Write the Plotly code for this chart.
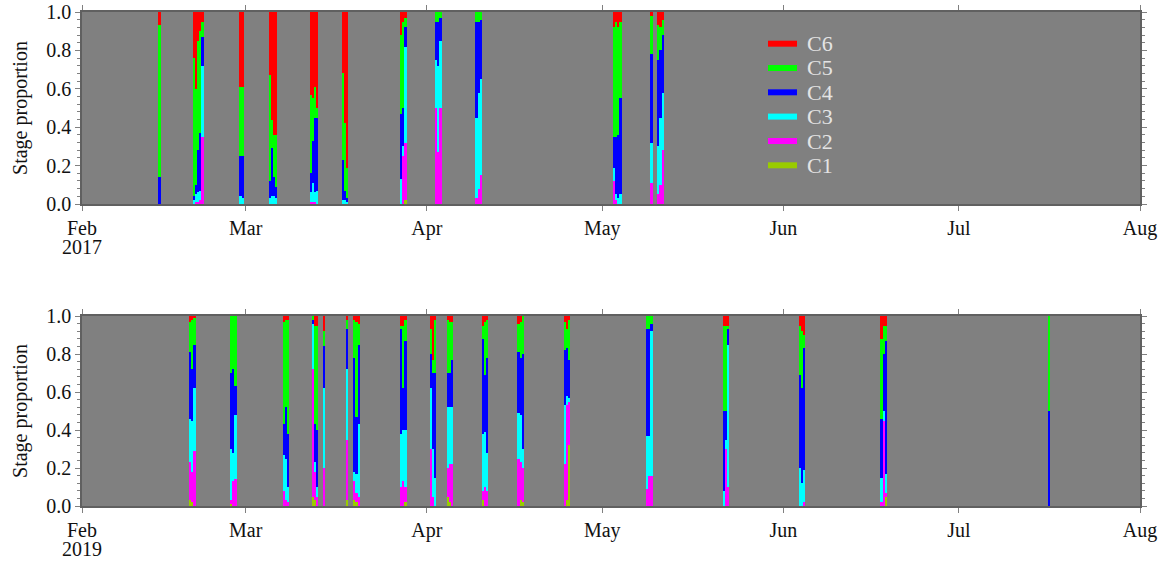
import plotly.graph_objects as go

stages = ["C1", "C2", "C3", "C4", "C5", "C6"]
stage_colors = ["#99cc00", "#ff00ff", "#00ffff", "#0000ff", "#00ff00", "#ff0000"]

months_2017 = ["2017-02-01", "2017-03-01", "2017-04-01", "2017-05-01", "2017-06-01", "2017-07-01", "2017-08-01"]
months_2019 = ["2019-02-01", "2019-03-01", "2019-04-01", "2019-05-01", "2019-06-01", "2019-07-01", "2019-08-01"]
month_labels = ["Feb", "Mar", "Apr", "May", "Jun", "Jul", "Aug"]
years = ["2017", "2019"]

# ---- 2017 samples ----
times_2017 = [
    "2017-02-14 06:00",
    "2017-02-20 03:00", "2017-02-20 12:00", "2017-02-20 21:00", "2017-02-21 06:00", "2017-02-21 15:00",
    "2017-02-28 03:00", "2017-02-28 12:00",
    "2017-03-05 03:00", "2017-03-05 12:00", "2017-03-05 21:00", "2017-03-06 06:00",
    "2017-03-12 03:00", "2017-03-12 12:00", "2017-03-12 21:00", "2017-03-13 06:00",
    "2017-03-17 14:00", "2017-03-17 23:00", "2017-03-18 08:00",
    "2017-03-27 14:00", "2017-03-27 23:00", "2017-03-28 08:00",
    "2017-04-02 14:00", "2017-04-02 23:00", "2017-04-03 08:00",
    "2017-04-09 12:00", "2017-04-09 21:00", "2017-04-10 06:00",
    "2017-05-03 00:00", "2017-05-03 09:00", "2017-05-03 18:00", "2017-05-04 03:00",
    "2017-05-09 10:00",
    "2017-05-10 14:00", "2017-05-10 23:00", "2017-05-11 08:00",
]
c1_2017 = [0, 0, 0, 0, 0, 0, 0, 0, 0, 0, 0, 0, 0, 0, 0, 0, 0, 0, 0, 0, 0, 0.02, 0, 0, 0, 0, 0, 0, 0, 0, 0, 0, 0, 0, 0, 0]
c2_2017 = [0, 0, 0.01, 0.01, 0.02, 0.35, 0, 0, 0, 0, 0, 0, 0.01, 0.01, 0.01, 0, 0, 0, 0, 0, 0.25, 0.30, 0.50, 0.27, 0.50, 0.03, 0.08, 0.15, 0.12, 0.02, 0, 0, 0.11, 0.05, 0.10, 0.28]
c3_2017 = [0, 0.02, 0.04, 0.05, 0.05, 0.37, 0.04, 0.03, 0.03, 0.04, 0.04, 0.03, 0.05, 0.10, 0.05, 0.07, 0.02, 0.02, 0.01, 0.13, 0.05, 0.50, 0.25, 0.45, 0.35, 0.42, 0.50, 0.50, 0.07, 0.03, 0.03, 0.05, 0.21, 0.25, 0.35, 0.30]
c4_2017 = [0.14, 0.02, 0.05, 0.22, 0.30, 0.15, 0.21, 0.22, 0.09, 0.25, 0.10, 0.06, 0.10, 0.22, 0.39, 0.38, 0.21, 0.05, 0.02, 0.34, 0.20, 0.10, 0.20, 0.23, 0.12, 0.50, 0.37, 0.31, 0.16, 0.30, 0.33, 0.50, 0.46, 0.45, 0.35, 0.30]
c5_2017 = [0.79, 0.72, 0.50, 0.57, 0.53, 0.08, 0.36, 0.36, 0.55, 0.15, 0.22, 0.27, 0.41, 0.22, 0.16, 0.05, 0.45, 0.35, 0.16, 0.41, 0.45, 0.05, 0.05, 0.05, 0.03, 0.05, 0.05, 0.04, 0.57, 0.60, 0.56, 0.40, 0.20, 0.18, 0.12, 0.08]
c6_2017 = [0.07, 0.24, 0.40, 0.15, 0.10, 0.05, 0.39, 0.39, 0.33, 0.56, 0.64, 0.64, 0.43, 0.45, 0.39, 0.50, 0.32, 0.58, 0.81, 0.12, 0.05, 0.03, 0, 0, 0, 0, 0, 0, 0.08, 0.05, 0.08, 0.05, 0.02, 0.07, 0.08, 0.04]

# ---- 2019 samples ----
times_2019 = [
    "2019-02-19 12:00", "2019-02-19 21:00", "2019-02-20 06:00",
    "2019-02-26 12:00", "2019-02-26 21:00", "2019-02-27 06:00",
    "2019-03-07 12:00", "2019-03-07 21:00", "2019-03-08 06:00",
    "2019-03-12 12:00", "2019-03-12 21:00", "2019-03-13 06:00", "2019-03-14 08:00",
    "2019-03-18 08:00",
    "2019-03-19 14:00", "2019-03-19 23:00", "2019-03-20 08:00",
    "2019-03-27 14:00", "2019-03-27 23:00", "2019-03-28 08:00",
    "2019-04-01 16:00", "2019-04-02 01:00", "2019-04-02 10:00",
    "2019-04-04 14:00", "2019-04-04 23:00", "2019-04-05 08:00",
    "2019-04-10 14:00", "2019-04-10 23:00", "2019-04-11 08:00",
    "2019-04-16 16:00", "2019-04-17 01:00", "2019-04-17 10:00",
    "2019-04-24 14:00", "2019-04-24 23:00", "2019-04-25 08:00",
    "2019-05-08 16:00", "2019-05-09 01:00", "2019-05-09 10:00",
    "2019-05-21 19:00", "2019-05-22 04:00", "2019-05-22 13:00",
    "2019-06-03 19:00", "2019-06-04 04:00", "2019-06-04 13:00",
    "2019-06-17 19:00", "2019-06-18 04:00", "2019-06-18 13:00",
    "2019-07-16 11:00",
]
c1_2019 = [0.03, 0.02, 0, 0.01, 0, 0, 0, 0, 0, 0.05, 0.03, 0, 0, 0.03, 0.03, 0.02, 0, 0, 0, 0.02, 0, 0, 0, 0.05, 0.02, 0, 0.03, 0, 0, 0, 0.03, 0.02, 0, 0.03, 0.32, 0, 0, 0, 0, 0, 0, 0, 0, 0, 0, 0, 0.05, 0]
c2_2019 = [0.20, 0.16, 0.29, 0.02, 0.13, 0.14, 0.08, 0.03, 0.02, 0.67, 0.15, 0.05, 0.20, 0.32, 0.10, 0.05, 0.05, 0.10, 0.13, 0.08, 0.30, 0.05, 0, 0.15, 0.20, 0.22, 0.05, 0.10, 0.08, 0.25, 0.20, 0.18, 0.22, 0.50, 0.23, 0.09, 0.16, 0.16, 0, 0.30, 0.10, 0, 0, 0.02, 0.02, 0.45, 0.02, 0]
c3_2019 = [0.23, 0.27, 0.33, 0.27, 0.15, 0.34, 0.19, 0.22, 0.08, 0.24, 0.05, 0.05, 0.42, 0.37, 0.05, 0.10, 0.38, 0.28, 0.27, 0.30, 0.32, 0.25, 0.15, 0.32, 0.30, 0.30, 0.30, 0.29, 0.20, 0.24, 0.25, 0.10, 0.31, 0.05, 0.02, 0.28, 0.21, 0.76, 0.08, 0.05, 0.75, 0.20, 0.12, 0.17, 0.13, 0.05, 0.10, 0]
c4_2019 = [0.35, 0.27, 0.23, 0.40, 0.44, 0.15, 0.16, 0.27, 0.28, 0.02, 0.20, 0.30, 0.22, 0.21, 0.60, 0.30, 0.42, 0.55, 0.22, 0.47, 0.18, 0.40, 0.55, 0.18, 0.18, 0.25, 0.50, 0.30, 0.50, 0.32, 0.30, 0.50, 0.29, 0.25, 0.20, 0.56, 0.56, 0.04, 0.42, 0.15, 0.08, 0.49, 0.50, 0.64, 0.31, 0.30, 0.70, 0.50]
c5_2019 = [0.16, 0.26, 0.14, 0.30, 0.28, 0.37, 0.54, 0.46, 0.60, 0.02, 0.52, 0.55, 0.08, 0.05, 0.20, 0.50, 0.11, 0.02, 0.33, 0.11, 0.13, 0.07, 0.28, 0.28, 0.27, 0.20, 0.07, 0.28, 0.20, 0.15, 0.19, 0.20, 0.15, 0.10, 0.21, 0.07, 0.07, 0.04, 0.45, 0.45, 0.02, 0.26, 0.30, 0.07, 0.42, 0.15, 0.08, 0.50]
c6_2019 = [0.03, 0.02, 0.01, 0, 0, 0, 0.03, 0.02, 0.02, 0, 0.05, 0.05, 0.08, 0.02, 0.02, 0.03, 0.04, 0.05, 0.05, 0.02, 0.07, 0.23, 0.02, 0.02, 0.03, 0.03, 0.05, 0.03, 0.02, 0.04, 0.03, 0, 0.03, 0.07, 0.02, 0, 0, 0, 0.05, 0.05, 0.05, 0.05, 0.08, 0.10, 0.12, 0.05, 0.05, 0]

values_2017 = [c1_2017, c2_2017, c3_2017, c4_2017, c5_2017, c6_2017]
values_2019 = [c1_2019, c2_2019, c3_2019, c4_2019, c5_2019, c6_2019]

BAR_WIDTH_MS = 9 * 3600 * 1000
FONT = "Liberation Serif, Times New Roman, serif"
TEXT = "#111111"

# pixel geometry of the page (used only for layout placement)
W, H = 1165, 561
ML, MR, MT, MB = 82, 25, 12, 55
PW = W - ML - MR
P1_TOP, P1_BOT = 12, 204
P2_TOP, P2_BOT = 316, 506
PH = H - MT - MB

def py2paper(py):
    return 1 - (py - MT) / PH

def px2paper(px):
    return (px - ML) / PW

fig = go.Figure()

for times, vals, xa, ya in [(times_2017, values_2017, "x", "y"), (times_2019, values_2019, "x2", "y2")]:
    for name, col, v in zip(stages, stage_colors, vals):
        fig.add_trace(go.Bar(
            x=times, y=v, name=name, xaxis=xa, yaxis=ya,
            width=BAR_WIDTH_MS, marker=dict(color=col, line=dict(width=0)),
            showlegend=False,
        ))

axis_common = dict(
    showline=True, linecolor="#606060", linewidth=1.5, mirror="ticks",
    ticks="outside", tickcolor="#808080", ticklen=5, tickwidth=1,
    showgrid=False, zeroline=False, automargin=False,
    tickfont=dict(family=FONT, size=20, color=TEXT),
)

def xaxis_cfg(months, anchor):
    return dict(
        type="date", range=[months[0], months[-1]], tickvals=months, ticktext=month_labels,
        anchor=anchor, **axis_common,
    )

def yaxis_cfg(domain, anchor):
    return dict(
        range=[0, 1.0], domain=domain, anchor=anchor,
        tickvals=[0, 0.2, 0.4, 0.6, 0.8, 1.0], ticktext=["0.0", "0.2", "0.4", "0.6", "0.8", "1.0"],
        minor=dict(ticks="outside", ticklen=3, dtick=0.04, tickcolor="#808080", showgrid=False),
        title=dict(text="Stage proportion", font=dict(family=FONT, size=20, color=TEXT), standoff=13),
        **axis_common,
    )

annotations = []
shapes = []

# year labels under the first month tick
for year, bot in [(years[0], P1_BOT), (years[1], P2_BOT)]:
    annotations.append(dict(
        x=px2paper(ML), y=py2paper(bot + 43), xref="paper", yref="paper",
        text=year, showarrow=False, xanchor="center", yanchor="middle",
        font=dict(family=FONT, size=20, color=TEXT),
    ))

# legend drawn inside the upper panel, C6 on top
legend_rows = [43.7, 68, 92.3, 116.6, 141, 165.3]
for (name, col), yy in zip(reversed(list(zip(stages, stage_colors))), legend_rows):
    shapes.append(dict(
        type="line", xref="paper", yref="paper",
        x0=px2paper(768), x1=px2paper(797), y0=py2paper(yy), y1=py2paper(yy),
        line=dict(color=col, width=6),
    ))
    annotations.append(dict(
        x=px2paper(805), y=py2paper(yy), xref="paper", yref="paper",
        text=name, showarrow=False, xanchor="left", yanchor="middle",
        font=dict(family=FONT, size=22, color="#e4e4e4"),
    ))

fig.update_layout(
    width=W, height=H,
    margin=dict(l=ML, r=MR, t=MT, b=MB),
    paper_bgcolor="white", plot_bgcolor="#808080",
    barmode="stack", bargap=0,
    showlegend=False,
    xaxis=xaxis_cfg(months_2017, "y"),
    yaxis=yaxis_cfg([py2paper(P1_BOT), 1.0], "x"),
    xaxis2=xaxis_cfg(months_2019, "y2"),
    yaxis2=yaxis_cfg([0.0, py2paper(P2_TOP)], "x2"),
    annotations=annotations,
    shapes=shapes,
    font=dict(family=FONT),
)

fig.write_html(
    "out.html",
    config={"displayModeBar": False},
    post_script="document.body.style.margin='0px';document.body.style.overflow='hidden';",
)
